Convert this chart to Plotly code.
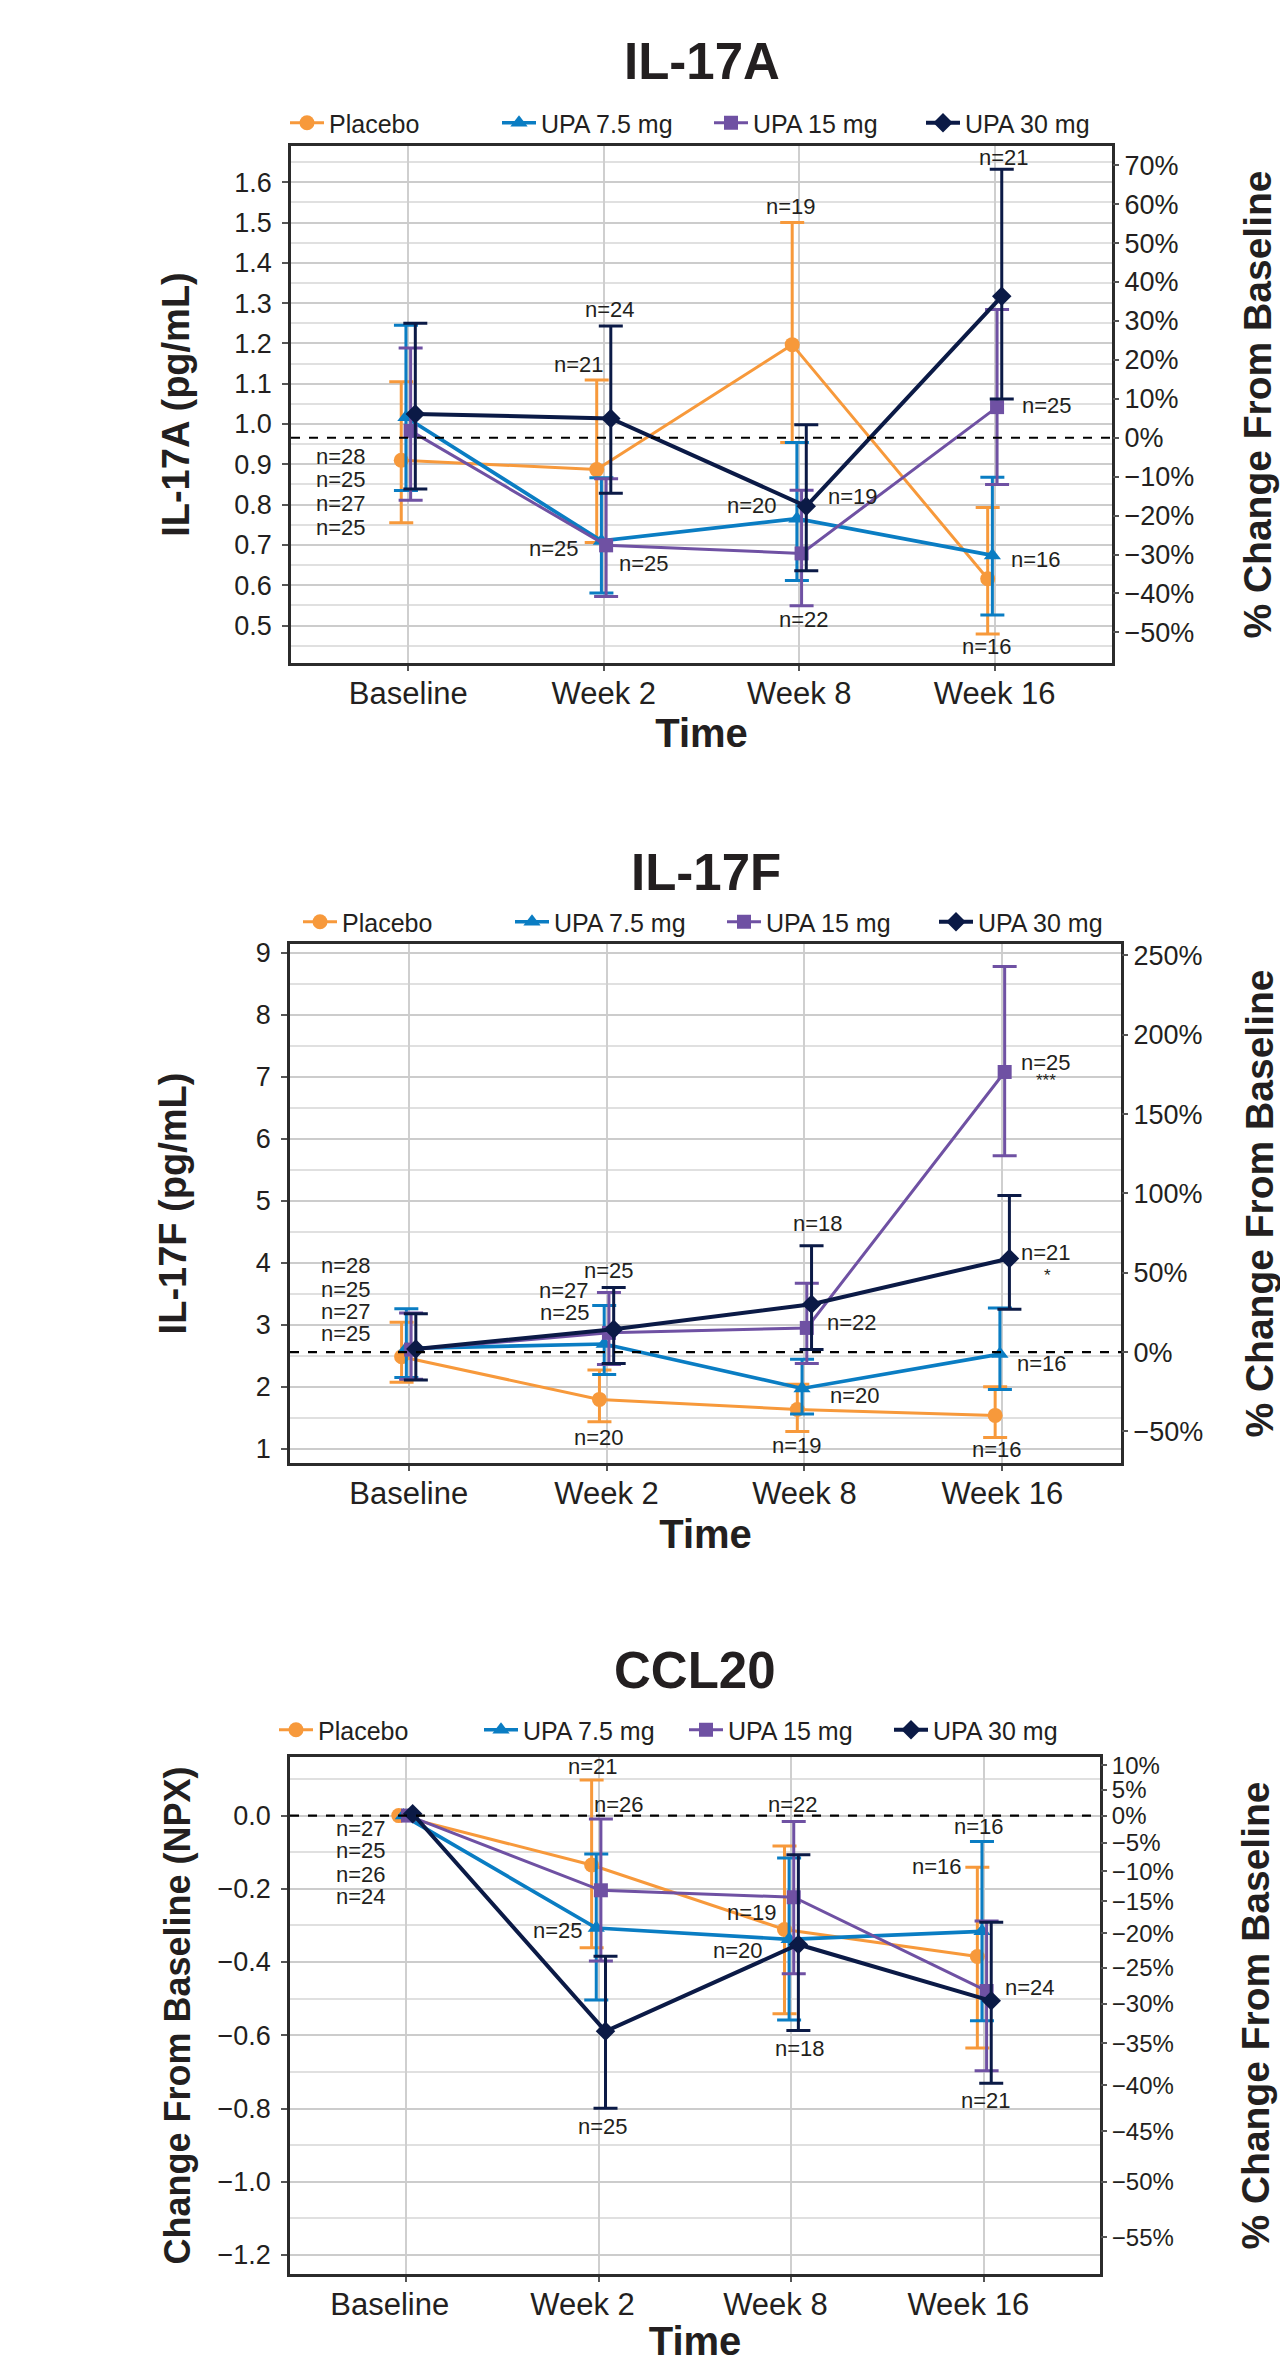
import numpy as np
import plotly.graph_objects as go

W, H = 1288, 2363          # reference canvas
OFF = 8                    # default page margin of the html body
FW, FH = W - OFF, H - OFF
FONT = "Liberation Sans, Arial, Helvetica, sans-serif"
TXT = "#231F20"

timepoints = ["Baseline", "Week 2", "Week 8", "Week 16"]
groups = ["Placebo", "UPA 7.5 mg", "UPA 15 mg", "UPA 30 mg"]
colors = ["#F7993B", "#0A7DC3", "#6F51A3", "#0B1A46"]
symbols = ["circle", "triangle-up", "square", "diamond"]
msizes = [15, 15, 14, 15]
lwidths = [3, 3.7, 3, 4]
dodge = [-0.036, -0.012, 0.012, 0.036]

# ---------------- IL-17A (pg/mL) ----------------
il17a_pbo = [0.910, 0.887, 1.197, 0.616]
il17a_pbo_hi = [1.105, 1.109, 1.500, 0.793]
il17a_pbo_lo = [0.755, 0.706, 0.954, 0.479]
il17a_u75 = [1.017, 0.710, 0.765, 0.674]
il17a_u75_hi = [1.245, 0.867, 0.954, 0.868]
il17a_u75_lo = [0.835, 0.581, 0.612, 0.526]
il17a_u15 = [0.983, 0.699, 0.679, 1.042]
il17a_u15_hi = [1.189, 0.864, 0.836, 1.284]
il17a_u15_lo = [0.811, 0.572, 0.549, 0.850]
il17a_u30 = [1.025, 1.014, 0.796, 1.317]
il17a_u30_hi = [1.250, 1.243, 0.998, 1.632]
il17a_u30_lo = [0.839, 0.828, 0.636, 1.062]
il17a_base = 0.966
il17a_range = [0.407, 1.690]
il17a_ticks = [0.5, 0.6, 0.7, 0.8, 0.9, 1.0, 1.1, 1.2, 1.3, 1.4, 1.5, 1.6]
il17a_pct = [70, 60, 50, 40, 30, 20, 10, 0, -10, -20, -30, -40, -50]
il17a_n_text = ["n=28", "n=25", "n=27", "n=25", "n=24", "n=21", "n=25", "n=25",
                "n=19", "n=20", "n=19", "n=22", "n=21", "n=25", "n=16", "n=16"]
il17a_n_x = [-0.345, -0.345, -0.345, -0.345, 1.034, 0.872, 0.747, 1.205,
             1.96, 1.759, 2.276, 2.024, 3.05, 3.27, 3.21, 2.96]
il17a_n_y = [0.920, 0.863, 0.803, 0.743, 1.285, 1.148, 0.692, 0.654,
             1.539, 0.799, 0.820, 0.516, 1.662, 1.047, 0.665, 0.448]

# ---------------- IL-17F (pg/mL) ----------------
il17f_pbo = [2.484, 1.796, 1.634, 1.538]
il17f_pbo_hi = [3.04, 2.27, 2.04, 2.00]
il17f_pbo_lo = [2.075, 1.435, 1.28, 1.183]
il17f_u75 = [2.62, 2.69, 1.973, 2.527]
il17f_u75_hi = [3.26, 3.31, 2.446, 3.27]
il17f_u75_lo = [2.15, 2.20, 1.56, 1.957]
il17f_u15 = [2.60, 2.87, 2.95, 7.08]
il17f_u15_hi = [3.19, 3.52, 3.67, 8.78]
il17f_u15_lo = [2.12, 2.36, 2.376, 5.73]
il17f_u30 = [2.61, 2.93, 3.333, 4.07]
il17f_u30_hi = [3.18, 3.60, 4.274, 5.086]
il17f_u30_lo = [2.11, 2.376, 2.60, 3.25]
il17f_base = 2.56
il17f_range = [0.77, 9.145]
il17f_ticks = [1, 2, 3, 4, 5, 6, 7, 8, 9]
il17f_pct = [250, 200, 150, 100, 50, 0, -50]
il17f_n_text = ["n=28", "n=25", "n=27", "n=25", "n=25", "n=27", "n=25", "n=20",
                "n=18", "n=22", "n=20", "n=19", "n=25", "n=21", "n=16", "n=16"]
il17f_n_x = [-0.318, -0.318, -0.318, -0.318, 1.011, 0.785, 0.79, 0.964,
             2.07, 2.24, 2.256, 1.964, 3.22, 3.22, 3.20, 2.975]
il17f_n_y = [3.960, 3.575, 3.215, 2.860, 3.88, 3.555, 3.195, 1.18,
             4.63, 3.03, 1.865, 1.05, 7.24, 4.16, 2.376, 0.98]
il17f_sig_text = ["***", "*"]
il17f_sig_x = [3.22, 3.23]
il17f_sig_y = [6.95, 3.80]

# ---------------- CCL20 (change from baseline, NPX) ----------------
ccl20_pbo = [0.0, -0.135, -0.311, -0.385]
ccl20_pbo_hi = [None, 0.097, -0.083, -0.141]
ccl20_pbo_lo = [None, -0.361, -0.541, -0.635]
ccl20_u75 = [0.0, -0.307, -0.338, -0.316]
ccl20_u75_hi = [None, -0.105, -0.116, -0.071]
ccl20_u75_lo = [None, -0.504, -0.558, -0.560]
ccl20_u15 = [0.0, -0.204, -0.223, -0.479]
ccl20_u15_hi = [None, -0.009, -0.016, -0.288]
ccl20_u15_lo = [None, -0.397, -0.432, -0.697]
ccl20_u30 = [0.005, -0.589, -0.352, -0.506]
ccl20_u30_hi = [None, -0.384, -0.107, -0.291]
ccl20_u30_lo = [None, -0.799, -0.587, -0.731]
ccl20_base = 0.0
ccl20_range = [-1.252, 0.160]
ccl20_ticks = [0.0, -0.2, -0.4, -0.6, -0.8, -1.0, -1.2]
ccl20_pct = [10, 5, 0, -5, -10, -15, -20, -25, -30, -35, -40, -45, -50, -55]
ccl20_n_text = ["n=27", "n=25", "n=26", "n=24", "n=21", "n=26", "n=25", "n=25",
                "n=22", "n=19", "n=20", "n=18", "n=16", "n=16", "n=24", "n=21"]
ccl20_n_x = [-0.232, -0.232, -0.232, -0.232, 0.971, 1.106, 0.788, 1.024,
             2.01, 1.793, 1.722, 2.047, 2.974, 2.757, 3.235, 3.011]
ccl20_n_y = [-0.034, -0.096, -0.160, -0.220, 0.133, 0.031, -0.314, -0.848,
             0.029, -0.264, -0.368, -0.637, -0.030, -0.139, -0.470, -0.777]

x_range = [-0.6, 3.6]

# panel boxes in reference pixels: (left, right, top, bottom)
boxes = [(291, 1112, 146, 663), (290, 1121, 944, 1463), (290, 1100, 1757, 2274)]

# small upward pull of the category labels, when the installed plotly accepts it
try:
    go.layout.XAxis(ticklabelstandoff=-4)
    XLAB_STANDOFF = -4
except Exception:
    XLAB_STANDOFF = 0


def px_x(v):
    return (v - OFF) / FW


def px_y(v):
    return 1 - (v - OFF) / FH


def pct_label(p):
    return f"\u2212{abs(p)}%" if p < 0 else f"{p}%"


fig = go.Figure()

panels = [
    dict(name="IL-17A",
         means=[il17a_pbo, il17a_u75, il17a_u15, il17a_u30],
         his=[il17a_pbo_hi, il17a_u75_hi, il17a_u15_hi, il17a_u30_hi],
         los=[il17a_pbo_lo, il17a_u75_lo, il17a_u15_lo, il17a_u30_lo],
         base=il17a_base, rng=il17a_range, ticks=il17a_ticks, fmt=".1f", minor=0.05,
         pct=il17a_pct, pctvals=[il17a_base * (1 + p / 100) for p in il17a_pct],
         ytitle="IL-17A (pg/mL)", ytsize=38, ystand=34, rstand=50, rfont=27,
         ntext=il17a_n_text, nx=il17a_n_x, ny=il17a_n_y,
         legx=285, legy=123, legw=163, titley=62, shift=0, tstand=7),
    dict(name="IL-17F",
         means=[il17f_pbo, il17f_u75, il17f_u15, il17f_u30],
         his=[il17f_pbo_hi, il17f_u75_hi, il17f_u15_hi, il17f_u30_hi],
         los=[il17f_pbo_lo, il17f_u75_lo, il17f_u15_lo, il17f_u30_lo],
         base=il17f_base, rng=il17f_range, ticks=il17f_ticks, fmt="d", minor=0.5,
         pct=il17f_pct, pctvals=[il17f_base * (1 + p / 100) for p in il17f_pct],
         ytitle="IL-17F (pg/mL)", ytsize=38, ystand=58, rstand=43, rfont=27,
         ntext=il17f_n_text, nx=il17f_n_x, ny=il17f_n_y,
         legx=298, legy=922, legw=163, titley=873, shift=0, tstand=11),
    dict(name="CCL20",
         means=[ccl20_pbo, ccl20_u75, ccl20_u15, ccl20_u30],
         his=[ccl20_pbo_hi, ccl20_u75_hi, ccl20_u15_hi, ccl20_u30_hi],
         los=[ccl20_pbo_lo, ccl20_u75_lo, ccl20_u15_lo, ccl20_u30_lo],
         base=ccl20_base, rng=ccl20_range, ticks=ccl20_ticks, fmt=".1f", minor=0.1,
         pct=ccl20_pct, pctvals=list(np.log2(1 + np.array(ccl20_pct) / 100.0)),
         ytitle="Change From Baseline (NPX)", ytsize=36, ystand=16, rstand=68, rfont=24,
         ntext=ccl20_n_text, nx=ccl20_n_x, ny=ccl20_n_y,
         legx=274, legy=1730, legw=156, titley=1670, shift=-16, tstand=17),
]

annotations = []
shapes = []
layout = {}

for pi, pn in enumerate(panels):
    k = pi + 1
    xa = "x" if k == 1 else f"x{k}"
    ya = "y" if k == 1 else f"y{k}"
    leg = "legend" if k == 1 else f"legend{k}"
    for g in range(4):
        m = np.array(pn["means"][g], dtype=float)
        hi = np.array([np.nan if v is None else v for v in pn["his"][g]], dtype=float)
        lo = np.array([np.nan if v is None else v for v in pn["los"][g]], dtype=float)
        xs = np.arange(len(timepoints)) + dodge[g]
        fig.add_trace(go.Scatter(
            x=xs, y=m, mode="lines+markers", name=groups[g],
            xaxis=xa, yaxis=ya, legend=leg,
            line=dict(color=colors[g], width=lwidths[g]),
            marker=dict(symbol=symbols[g], size=msizes[g], color=colors[g]),
            error_y=dict(type="data", symmetric=False, array=hi - m, arrayminus=m - lo,
                         color=colors[g], thickness=3, width=12),
            hoverinfo="skip",
        ))
    # carrier for the right-hand percent axis (draws nothing)
    fig.add_trace(go.Scatter(x=[None], y=[None], xaxis=xa, yaxis=f"y{k + 3}",
                             showlegend=False, hoverinfo="skip"))

    L, R, T, B = boxes[pi]
    common_x = dict(
        domain=[px_x(L), px_x(R)], range=x_range, tickmode="array",
        tickvals=list(range(len(timepoints))), ticktext=timepoints,
        showgrid=True, gridcolor="#cfcfcf", gridwidth=1.5,
        showline=True, linecolor="#2b2b2b", linewidth=2.5, mirror=True,
        ticks="outside", ticklen=5, tickcolor="#555", tickwidth=1.5,
        tickfont=dict(family=FONT, size=31, color=TXT), ticklabelstandoff=XLAB_STANDOFF,
        title=dict(text="Time", font=dict(family=FONT, size=40, color=TXT, weight="bold"),
                   standoff=pn["tstand"]),
        zeroline=False, anchor=ya, automargin=False,
    )
    if pn["shift"]:
        common_x["ticklabelshift"] = pn["shift"]
    layout[f"xaxis{'' if k == 1 else k}"] = common_x
    layout[f"yaxis{'' if k == 1 else k}"] = dict(
        domain=[px_y(B), px_y(T)], range=pn["rng"], tickmode="array",
        tickvals=pn["ticks"], tickformat=pn["fmt"],
        showgrid=True, gridcolor="#cccccc", gridwidth=2,
        minor=dict(dtick=pn["minor"], tick0=0, showgrid=True, gridcolor="#e0e0e0",
                   gridwidth=1.5, ticks=""),
        showline=True, linecolor="#2b2b2b", linewidth=2.5, mirror=True,
        ticks="outside", ticklen=6, tickcolor="#555", tickwidth=1.5,
        tickfont=dict(family=FONT, size=27, color=TXT), ticklabelstandoff=5,
        title=dict(text=pn["ytitle"],
                   font=dict(family=FONT, size=pn["ytsize"], color=TXT, weight="bold"),
                   standoff=pn["ystand"]),
        zeroline=False, anchor=xa, automargin=False,
    )
    layout[f"yaxis{k + 3}"] = dict(
        overlaying=ya, side="right", anchor=xa, range=pn["rng"], tickmode="array",
        tickvals=pn["pctvals"], ticktext=[pct_label(p) for p in pn["pct"]],
        showgrid=False, zeroline=False, showline=False,
        ticks="outside", ticklen=6, tickcolor="#555", tickwidth=1.5,
        tickfont=dict(family=FONT, size=pn["rfont"], color=TXT),
        title=dict(text="% Change From Baseline",
                   font=dict(family=FONT, size=39, color=TXT, weight="bold"),
                   standoff=pn["rstand"]),
        automargin=False,
    )
    layout[leg] = dict(
        orientation="h", x=px_x(pn["legx"]), xanchor="left", y=px_y(pn["legy"]),
        yanchor="middle", font=dict(family=FONT, size=25, color=TXT),
        bgcolor="rgba(0,0,0,0)", itemwidth=34, traceorder="normal",
        entrywidth=pn["legw"], entrywidthmode="pixels",
    )
    # baseline reference (dashed)
    shapes.append(dict(type="line", xref=f"{xa} domain", yref=ya, x0=0, x1=1,
                       y0=pn["base"], y1=pn["base"], layer="above",
                       line=dict(color="black", width=2.2, dash="dash")))
    # panel title
    annotations.append(dict(text=f"<b>{pn['name']}</b>", xref="paper", yref="paper",
                            x=px_x((L + R) / 2), y=px_y(pn["titley"]), showarrow=False,
                            xanchor="center", yanchor="middle",
                            font=dict(family=FONT, size=51, color=TXT)))
    for t, xv, yv in zip(pn["ntext"], pn["nx"], pn["ny"]):
        annotations.append(dict(text=t, xref=xa, yref=ya, x=xv, y=yv, showarrow=False,
                                xanchor="center", yanchor="middle",
                                font=dict(family=FONT, size=22, color=TXT)))

for t, xv, yv in zip(il17f_sig_text, il17f_sig_x, il17f_sig_y):
    annotations.append(dict(text=t, xref="x2", yref="y2", x=xv, y=yv, showarrow=False,
                            xanchor="center", yanchor="middle",
                            font=dict(family=FONT, size=17, color=TXT)))

fig.update_layout(
    width=FW, height=FH, margin=dict(l=0, r=0, t=0, b=0),
    paper_bgcolor="white", plot_bgcolor="white",
    annotations=annotations, shapes=shapes, **layout,
)

fig.write_html("out.html")
